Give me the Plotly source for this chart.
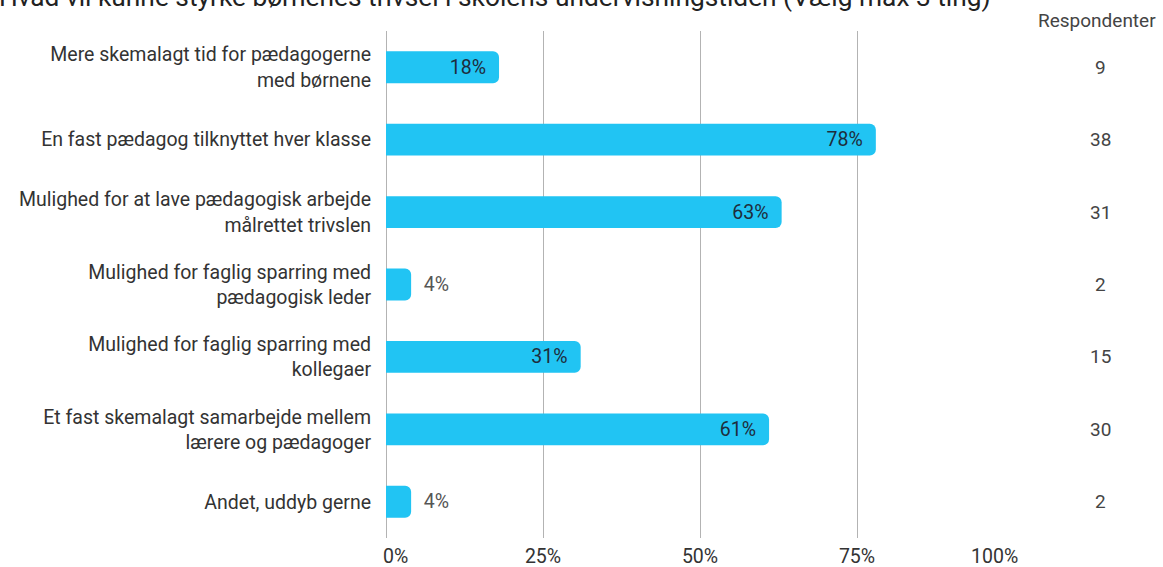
import plotly.graph_objects as go

title_text = "Hvad vil kunne styrke børnenes trivsel i skolens undervisningstiden (Vælg max 3 ting)"
categories = [
    "Mere skemalagt tid for pædagogerne<br>med børnene",
    "En fast pædagog tilknyttet hver klasse",
    "Mulighed for at lave pædagogisk arbejde<br>målrettet trivslen",
    "Mulighed for faglig sparring med<br>pædagogisk leder",
    "Mulighed for faglig sparring med<br>kollegaer",
    "Et fast skemalagt samarbejde mellem<br>lærere og pædagoger",
    "Andet, uddyb gerne",
]
percent = [18, 78, 63, 4, 31, 61, 4]
respondents = [9, 38, 31, 2, 15, 30, 2]
tick_vals = [0, 25, 50, 75, 100]
tick_text = ["0%", "25%", "50%", "75%", "100%"]
right_header = "Respondenter"

NB = "\u00a0"
FONT = "Roboto"
BAR = "#21c4f3"
FS = 19.5

positions = ["inside" if v > 10 else "outside" for v in percent]
labels = [(f"{v}%" + NB * 2) if p == "inside" else (NB * 2 + f"{v}%")
          for v, p in zip(percent, positions)]

ticktext = list(tick_text)
ticktext[0] = NB * 4 + ticktext[0]
ticktext[-1] = ticktext[-1] + NB * 8

fig = go.Figure()
fig.add_trace(go.Bar(
    x=percent,
    y=categories,
    orientation="h",
    marker=dict(color=BAR, cornerradius=6, line=dict(width=0)),
    text=labels,
    textposition=positions,
    insidetextanchor="end",
    insidetextfont=dict(family=FONT, size=FS, color="#1e2d3c"),
    outsidetextfont=dict(family=FONT, size=FS, color="#555555"),
    cliponaxis=False,
    hoverinfo="skip",
))

ML, MR, MT, MB = 386, 149, 31, 29
W, H = 1163, 567
ph = H - MT - MB
pw = W - ML - MR

annotations = [
    dict(text=title_text, xref="paper", yref="paper",
         x=(-3 - ML) / pw, y=1 + (MT + 3) / ph, xanchor="left", yanchor="middle",
         showarrow=False, font=dict(family=FONT, size=26.3, color="#222222")),
    dict(text=right_header, xref="paper", yref="paper",
         x=(1097 - ML) / pw, y=1 + (MT - 20) / ph, xanchor="center", yanchor="middle",
         showarrow=False, font=dict(family=FONT, size=19, color="#444444")),
]
for c, n in zip(categories, respondents):
    annotations.append(dict(text=str(n), xref="paper", yref="y",
                            x=(1100 - ML) / pw, y=c, xanchor="center", yanchor="middle",
                            showarrow=False, font=dict(family=FONT, size=19, color="#444444")))

fig.update_layout(
    width=W, height=H,
    margin=dict(l=ML, r=MR, t=MT, b=MB, autoexpand=False),
    paper_bgcolor="white", plot_bgcolor="white",
    showlegend=False,
    bargap=0.56,
    annotations=annotations,
    xaxis=dict(range=[0, 100], tickvals=tick_vals, ticktext=ticktext,
               showgrid=True, gridcolor="#b3b3b3", gridwidth=1,
               zeroline=True, zerolinecolor="#b3b3b3", zerolinewidth=1,
               showline=False, ticks="", ticklabelstandoff=4, automargin=False,
               tickfont=dict(family=FONT, size=FS, color="#333333"), fixedrange=True),
    yaxis=dict(autorange="reversed", showgrid=False, zeroline=False, showline=False,
               ticks="", ticklabelstandoff=14, automargin=False,
               tickfont=dict(family=FONT, size=FS, color="#333333"), fixedrange=True),
)

fig.write_html("out.html", config={"displayModeBar": False},
               post_script="document.body.style.margin='0';document.body.style.overflow='hidden';")
